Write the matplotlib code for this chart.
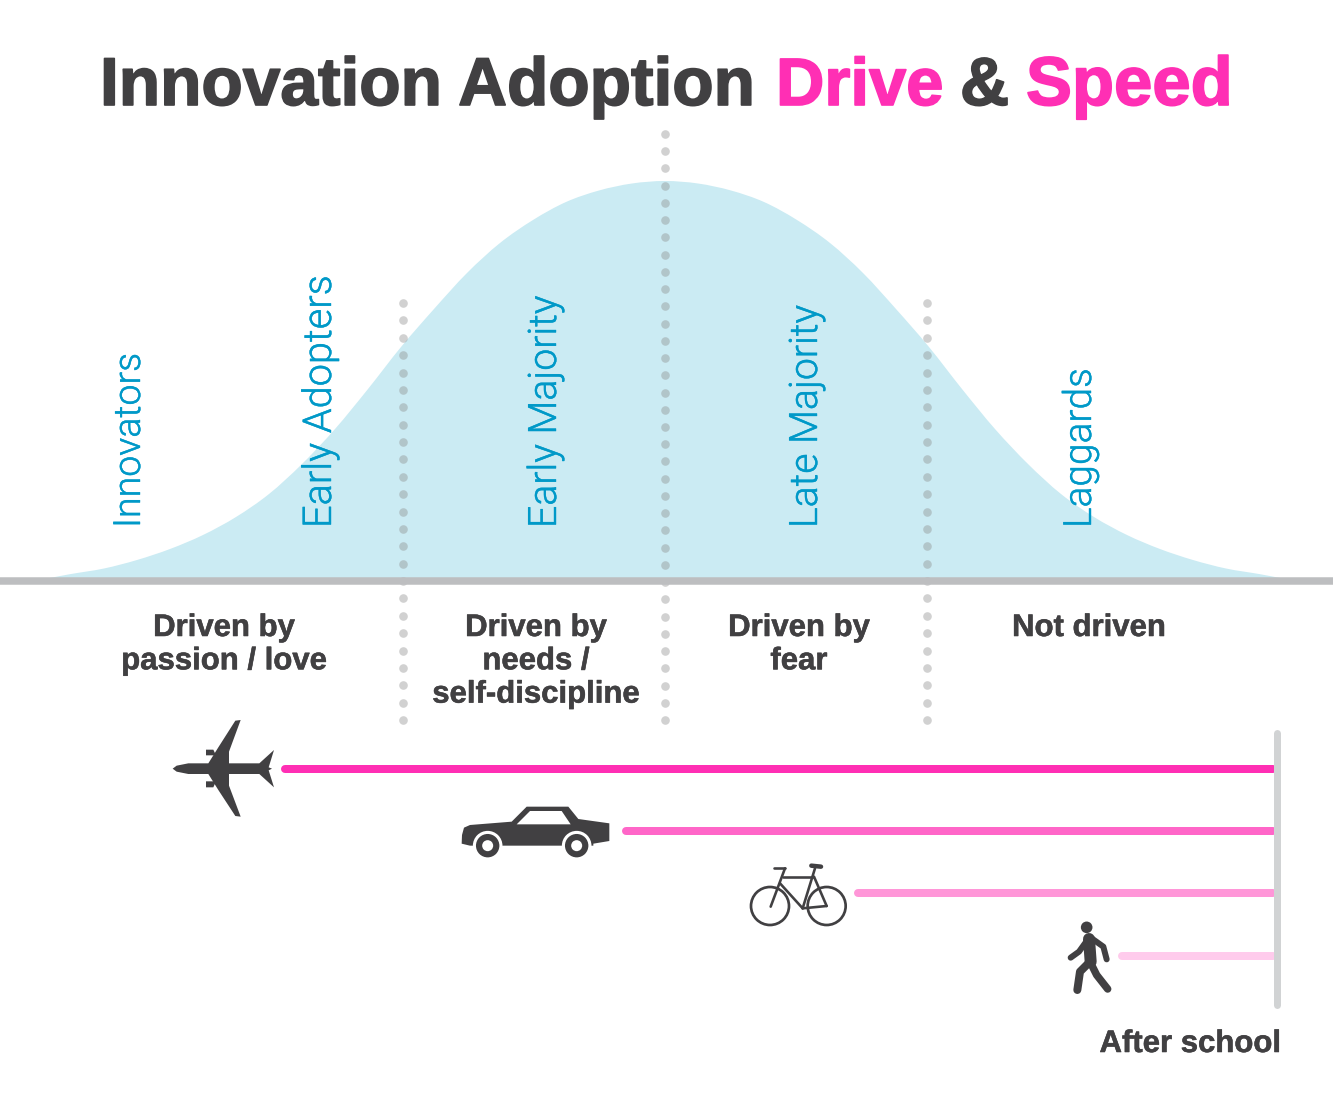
import matplotlib
matplotlib.use('Agg')
import matplotlib.pyplot as plt
import matplotlib.patheffects as pe
import numpy as np
from matplotlib.path import Path
from matplotlib.patches import PathPatch, Polygon, Circle

# values, in picture pixels
CURVE_X = [50, 71, 104, 137, 170, 203, 236, 269, 302, 335, 368, 401, 434, 467, 500, 533, 566, 599, 632, 665,
           698, 731, 764, 797, 830, 863, 896, 929, 962, 995, 1028, 1061, 1094, 1127, 1160, 1193, 1226, 1259, 1280]
CURVE_Y = [578, 574, 568.5, 560, 549, 535, 517, 494, 464, 429, 389, 347, 309, 273, 243, 220, 202, 190.5, 183.5, 181,
           183.5, 190.5, 202, 220, 243, 273, 309, 347, 389, 429, 464, 494, 517, 535, 549, 560, 568.5, 574, 578]
BASELINE_Y = 581
SPLIT_X = [403, 665, 927]
SPLIT_TOP = [303, 134, 303]
SPLIT_COUNT = [25, 35, 25]
SPLIT_BOTTOM = 720

SEGMENTS = ['Innovators', 'Early Adopters', 'Early Majority', 'Late Majority', 'Laggards']
DRIVES = [['Driven by', 'passion / love'], ['Driven by', 'needs /', 'self-discipline'],
          ['Driven by', 'fear'], ['Not driven']]

SPEED_Y = [769, 831, 893, 956]
SPEED_START = [285, 626, 858, 1122]
SPEED_END = 1273

# layout and styles
SEGMENT_X = [140, 331, 556, 817, 1091]
SEGMENT_SIZE = [27, 28.6, 28.2, 28.2, 28]
DRIVE_X = [224, 536, 799, 1089]
SPEED_COLORS = ['#ff2fb4', '#ff66c8', '#ff96d8', '#ffcbec']
DARK = '#414042'
PINK = '#ff2fb4'
BLUE = '#0099c8'
FILL = '#cbebf3'
SANS = 'Liberation Sans'

px = 0.72  # one picture pixel in points at dpi 100


def smooth_path(xs, ys):
    # catmull-rom through the read points, closed along the baseline
    pts = np.column_stack([xs, ys]).astype(float)
    verts = [pts[0]]
    codes = [Path.MOVETO]
    for i in range(len(pts) - 1):
        p0 = pts[max(i - 1, 0)]
        p1 = pts[i]
        p2 = pts[i + 1]
        p3 = pts[min(i + 2, len(pts) - 1)]
        verts += [p1 + (p2 - p0) / 6, p2 - (p3 - p1) / 6, p2]
        codes += [Path.CURVE4] * 3
    verts += [(xs[-1], BASELINE_Y), (xs[0], BASELINE_Y), pts[0]]
    codes += [Path.LINETO, Path.LINETO, Path.CLOSEPOLY]
    return Path(verts, codes)


def shifted(points, x0, y0):
    # icon outlines were traced on 3x crops
    return [(x0 + a / 3, y0 + b / 3) for a, b in points]


def draw_plane(ax):
    x0, y0 = 160, 710
    shapes = [
        [(38, 176), (50, 167), (85, 160), (145, 160), (175, 112), (226, 32), (242, 30), (207, 125), (207, 160),
         (298, 160), (342, 120), (326, 172), (336, 176), (326, 181), (342, 232), (298, 192), (207, 192), (207, 227),
         (242, 320), (226, 318), (175, 240), (145, 192), (85, 192), (50, 185)],
        [(138, 119), (160, 119), (168, 136), (138, 136)],
        [(138, 214), (168, 214), (160, 232), (138, 232)],
    ]
    for s in shapes:
        ax.add_patch(Polygon(shifted(s, x0, y0), closed=True, fc=DARK, ec='none', zorder=5))


def draw_car(ax):
    x0, y0 = 450, 795
    body = [(35, 146), (36, 120), (42, 98), (60, 90), (185, 80), (230, 35), (355, 35), (385, 72), (478, 85), (478, 138),
            (430, 146), (430, 152), (60, 152)]
    ax.add_patch(Polygon(shifted(body, x0, y0), closed=True, fc=DARK, ec='none', zorder=5))
    window = [(200, 88), (240, 48), (335, 48), (362, 88)]
    ax.add_patch(Polygon(shifted(window, x0, y0), closed=True, fc='white', ec='none', zorder=6))
    for cx in [113, 380]:
        c = (x0 + cx / 3, y0 + 152 / 3)
        ax.add_patch(Circle(c, 14.8, fc='white', ec='none', zorder=6))
        ax.add_patch(Circle(c, 11.7, fc=DARK, ec='none', zorder=7))
        ax.add_patch(Circle(c, 5.5, fc='white', ec='none', zorder=8))


def draw_bike(ax):
    x0, y0 = 740, 855
    for cx in [90, 260]:
        ax.add_patch(Circle((x0 + cx / 3, y0 + 153 / 3), 19, fc='none', ec=DARK, lw=2.7 * px, zorder=5))
    tubes = [[(225, 40), (188, 160)], [(120, 85), (188, 160)], [(130, 65), (218, 65)], [(222, 65), (260, 153)],
             [(188, 160), (260, 153)], [(135, 40), (92, 155)], [(102, 38), (135, 38)]]
    for t in tubes:
        s = shifted(t, x0, y0)
        ax.plot([s[0][0], s[1][0]], [s[0][1], s[1][1]], color=DARK, lw=2.6 * px, solid_capstyle='round', zorder=5)
    s = shifted([(214, 32), (243, 35)], x0, y0)
    ax.plot([s[0][0], s[1][0]], [s[0][1], s[1][1]], color=DARK, lw=4.5 * px, solid_capstyle='round', zorder=5)


def draw_walker(ax):
    x0, y0 = 1055, 915
    ax.add_patch(Circle((x0 + 95 / 3, y0 + 37 / 3), 5.8, fc=DARK, ec='none', zorder=5))
    limbs = [([(102, 72), (107, 140)], 12), ([(95, 78), (72, 110), (47, 128)], 6),
             ([(110, 70), (145, 95), (155, 133)], 6), ([(105, 140), (75, 170), (67, 225)], 8),
             ([(105, 140), (125, 180), (158, 222)], 7.5)]
    for pts, w in limbs:
        s = np.array(shifted(pts, x0, y0))
        ax.plot(s[:, 0], s[:, 1], color=DARK, lw=w * px, solid_capstyle='round', solid_joinstyle='round', zorder=5)


fig = plt.figure(figsize=(13.33, 11.04), dpi=100)
ax = fig.add_axes([0, 0, 1, 1])
ax.set_xlim(0, 1333)
ax.set_ylim(1104, 0)
ax.axis('off')

# bell curve and axis
ax.add_patch(PathPatch(smooth_path(CURVE_X, CURVE_Y), fc=FILL, ec='none', zorder=1))
ax.plot([0, 1333], [BASELINE_Y, BASELINE_Y], color='#bdbec0', lw=7.5 * px, solid_capstyle='butt', zorder=3.5)

# dotted splits
for x, top, n in zip(SPLIT_X, SPLIT_TOP, SPLIT_COUNT):
    ys = np.linspace(top, SPLIT_BOTTOM, n)
    ax.scatter([x] * n, ys, s=(8.6 * px) ** 2, color=(0.55, 0.55, 0.55, 0.4), linewidths=0, zorder=3)

# title in pieces since the colours change
heavy = lambda c, w: [pe.withStroke(linewidth=w, foreground=c)]
title_bits = [('Innovation Adoption', 100, DARK, 48.7), ('Drive', 776, PINK, 48.2), ('&', 960, DARK, 49),
              ('Speed', 1026, PINK, 49.6)]
for txt, x, col, size in title_bits:
    ax.text(x, 105, txt, color=col, fontsize=size, family=SANS, weight='bold', va='baseline', ha='left', zorder=6,
            path_effects=heavy(col, 1.2))

for label, x, size in zip(SEGMENTS, SEGMENT_X, SEGMENT_SIZE):
    ax.text(x, 528, label, color=BLUE, fontsize=size, family='Roboto', weight=300, rotation=90,
            rotation_mode='anchor', ha='left', va='baseline', zorder=4, path_effects=heavy(BLUE, 0.3))

for lines, x in zip(DRIVES, DRIVE_X):
    for i, line in enumerate(lines):
        ax.text(x, 636 + 33.3 * i, line, color=DARK, fontsize=22.4, family=SANS, weight='bold',
                ha='center', va='baseline', zorder=6, path_effects=heavy(DARK, 0.4))

ax.text(1281, 1052, 'After school', color=DARK, fontsize=22.4, family=SANS, weight='bold',
        ha='right', va='baseline', zorder=6, path_effects=heavy(DARK, 0.4))

# speed lines
for y, start, col in zip(SPEED_Y, SPEED_START, SPEED_COLORS):
    ax.plot([start, SPEED_END], [y, y], color=col, lw=8 * px, solid_capstyle='round', zorder=3)
ax.plot([1277, 1277], [733, 1005], color='#d1d3d4', lw=7 * px, solid_capstyle='round', zorder=4)

draw_plane(ax)
draw_car(ax)
draw_bike(ax)
draw_walker(ax)

fig.savefig('out.png', dpi=100)
